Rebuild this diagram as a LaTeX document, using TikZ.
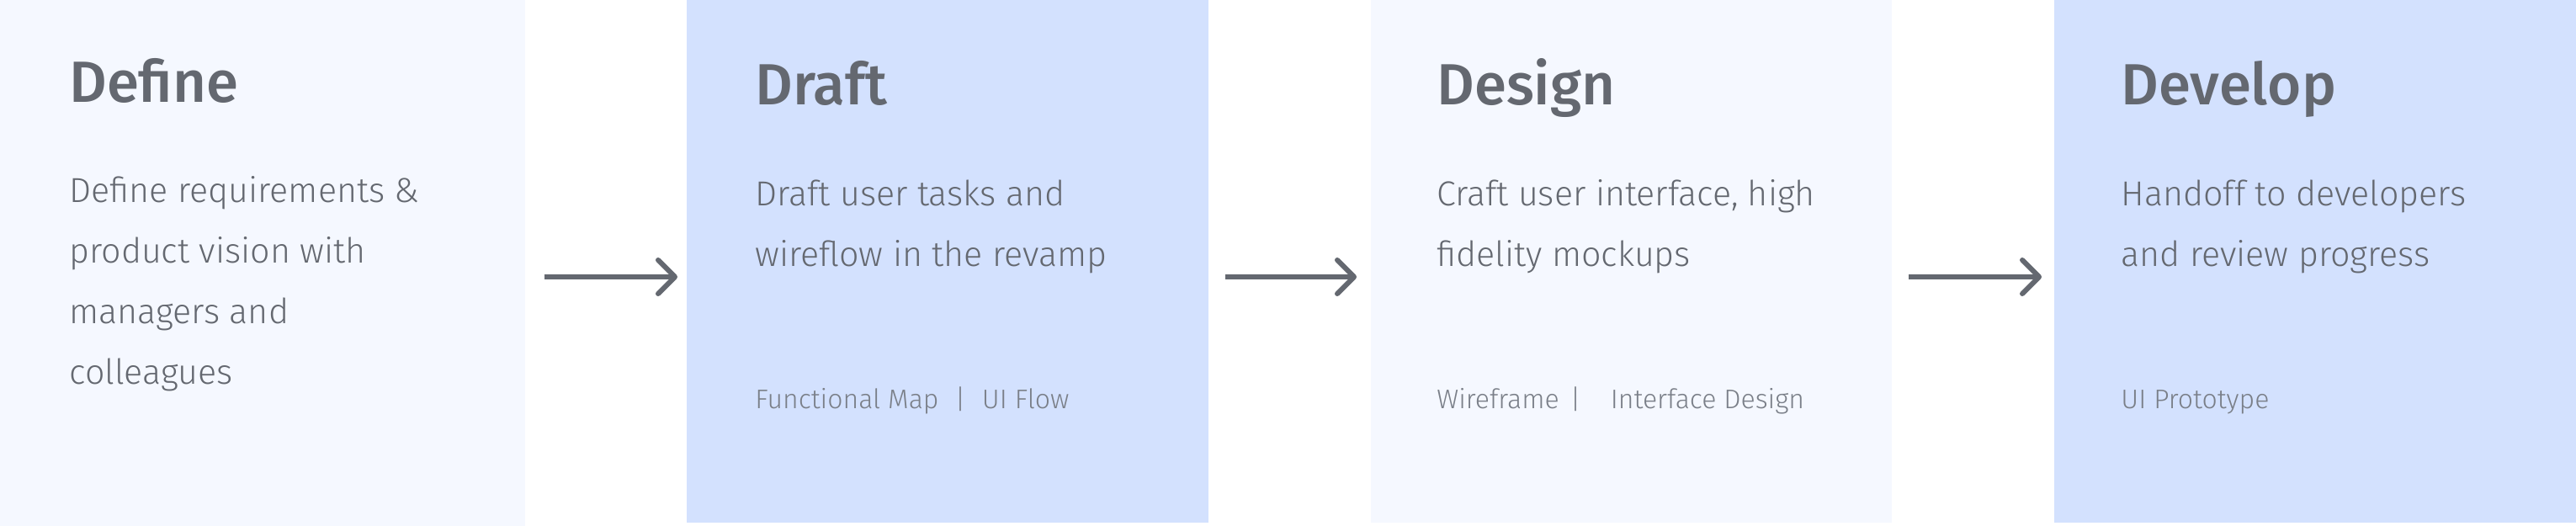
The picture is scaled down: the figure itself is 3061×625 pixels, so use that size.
\documentclass[tikz,border=0pt]{standalone}
\usepackage{fontspec}
\setmainfont{Fira Sans Light}
\newfontfamily\titlef{Fira Sans Medium}
\definecolor{lightbox}{HTML}{F5F8FF}
\definecolor{bluebox}{HTML}{D3E1FE}
\definecolor{txt}{HTML}{646870}
\definecolor{tagtxt}{HTML}{7A7F88}
\begin{document}
\begin{tikzpicture}[x=0.5pt,y=-0.5pt,
  lightpanel/.style={fill=lightbox,draw=none},
  bluepanel/.style={fill=bluebox,draw=none},
  title/.style={anchor=base west,inner sep=0pt,text=txt,font=\titlef\fontsize{34.5}{40}\selectfont},
  body/.style={anchor=base west,inner sep=0pt,text=txt,font=\fontsize{20.6}{24}\selectfont},
  tag/.style={anchor=base west,inner sep=0pt,text=tagtxt,font=\fontsize{16}{20}\selectfont},
  flowline/.style={draw=txt,line width=3pt},
  flowhead/.style={draw=txt,line width=3pt,line cap=round,line join=round}
]
\useasboundingbox (0,0) rectangle (3061,625);
\fill[white] (0,0) rectangle (3061,625);
% panels
\path[lightpanel] (0,0) rectangle (624,625);
\path[bluepanel] (816,0) rectangle (1436,621);
\path[lightpanel] (1629,0) rectangle (2248,621);
\path[bluepanel] (2441,0) rectangle (3061,621);
% titles
\node[title] (t1) at (82,122) {Define};
\node[title] (t2) at (897,125) {Draft};
\node[title] (t3) at (1707,125) {Design};
\node[title] (t4) at (2520,125) {Develop};
% bodies
\node[body] (b1a) at (82,241) {Define requirements \&};
\node[body] (b1b) at (82,313) {product vision with};
\node[body] (b1c) at (82,385) {managers and};
\node[body] (b1d) at (82,456) {colleagues};
\node[body] (b2a) at (897,245) {Draft user tasks and};
\node[body] (b2b) at (897,317) {wireflow in the revamp};
\node[body] (b3a) at (1707,245) {Craft user interface, high};
\node[body] (b3b) at (1707,317) {fidelity mockups};
\node[body] (b4a) at (2520,245) {Handoff to developers};
\node[body] (b4b) at (2520,317) {and review progress};
% tags
\node[tag] (g2) at (897,485) {Functional Map\hspace{0.6em}|\hspace{0.6em}UI Flow};
\node[tag] (g3) at (1707,485) {Wireframe\hspace{0.4em}|\hspace{1.1em}Interface Design};
\node[tag] (g4) at (2520,485) {UI Prototype};
% arrows
\coordinate (a1s) at (647,329);
\coordinate (a1e) at (802,329);
\coordinate (a2s) at (1456,329);
\coordinate (a2e) at (1609,329);
\coordinate (a3s) at (2268,329);
\coordinate (a3e) at (2423,329);
\foreach \s/\e in {a1s/a1e,a2s/a2e,a3s/a3e}{
  \draw[flowline] (\s) -- (\e);
  \draw[flowhead] ([shift={(-20,-20)}]\e) -- (\e) -- ([shift={(-20,20)}]\e);
}
\end{tikzpicture}
\end{document}
